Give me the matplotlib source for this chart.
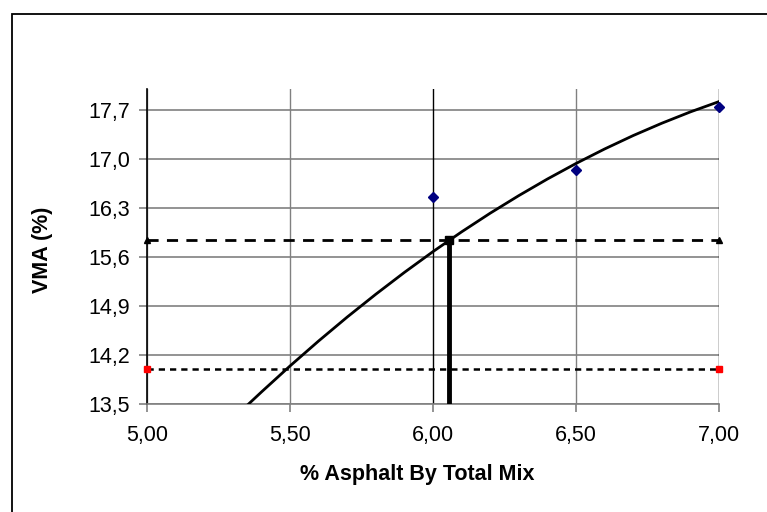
import matplotlib
matplotlib.use('Agg')
import matplotlib.pyplot as plt
from matplotlib.patches import Rectangle

plt.rcParams['font.family'] = ['Liberation Sans', 'DejaVu Sans']

# measured points
asphalt = [6.00, 6.50, 7.00]
vma = [16.46, 16.85, 17.74]

# trend curve
curve_x = [5.35, 5.40, 5.50, 5.60, 5.70, 5.80, 5.90, 6.00, 6.10, 6.20, 6.30,
           6.40, 6.50, 6.60, 6.70, 6.80, 6.90, 7.00]
curve_y = [13.480, 13.671, 14.043, 14.400, 14.742, 15.068, 15.380, 15.677, 15.959,
           16.226, 16.477, 16.714, 16.936, 17.143, 17.335, 17.511, 17.673, 17.820]

# limit lines
vma_target = 15.84
vma_min = 14.0
limit_x = [5.00, 7.00]
opt_asphalt = 6.057

x_ticks = [5.00, 5.50, 6.00, 6.50, 7.00]
y_ticks = [13.5, 14.2, 14.9, 15.6, 16.3, 17.0, 17.7]

fig = plt.figure(figsize=(7.67, 5.12), dpi=100)
ax = fig.add_axes([147 / 767, 1 - 404 / 512, (719 - 147) / 767, (404 - 89) / 512])

ax.set_xlim(5.0, 7.0)
ax.set_ylim(13.5, 18.0)
ax.set_xticks(x_ticks)
ax.set_yticks(y_ticks)
ax.set_xticklabels(['{:.2f}'.format(v).replace('.', ',') for v in x_ticks])
ax.set_yticklabels(['{:.1f}'.format(v).replace('.', ',') for v in y_ticks])
ax.tick_params(axis='both', labelsize=15.5, color='#808080', length=6, width=1.2)
ax.tick_params(axis='x', pad=9)
ax.tick_params(axis='y', pad=6)

for y in y_ticks:
    ax.axhline(y, color='#808080', lw=1.2, zorder=1)
for x in x_ticks:
    c = 'black' if x in (6.00, 7.00) else '#808080'
    ax.axvline(x, color=c, lw=1.0, zorder=1)

for s in ['top', 'right']:
    ax.spines[s].set_visible(False)
ax.spines['left'].set_color('black')
ax.spines['left'].set_linewidth(1.2)
ax.spines['bottom'].set_color('#808080')
ax.spines['bottom'].set_linewidth(1.2)

ax.plot(curve_x, curve_y, color='black', lw=2, zorder=3, clip_on=True,
        solid_joinstyle='round')
ax.plot(limit_x, [vma_target, vma_target], color='black', lw=2, ls=(0, (4, 3)),
        marker='^', ms=5, zorder=4, clip_on=False)
ax.plot(limit_x, [vma_min, vma_min], color='black', lw=1.8, ls=(0, (2.5, 2)), zorder=4,
        clip_on=False)
ax.plot(limit_x, [vma_min, vma_min], ls='none', marker='s', ms=5, color='red', zorder=5,
        clip_on=False)
ax.plot([opt_asphalt, opt_asphalt], [13.5, vma_target], color='black', lw=3.5,
        zorder=4)
ax.plot([opt_asphalt], [vma_target], ls='none', marker='s', ms=6, color='black', zorder=5)
ax.plot(asphalt, vma, ls='none', marker='D', ms=5.5, color='#000080', zorder=6,
        clip_on=False)

ax.set_xlabel('% Asphalt By Total Mix', fontsize=15.5, fontweight='bold')
ax.set_ylabel('VMA (%)', fontsize=15.5, fontweight='bold')
ax.xaxis.set_label_coords(0.472, -0.192)
ax.yaxis.set_label_coords(-0.165, 0.49)

fig.patches.append(Rectangle((12 / 767, -0.1), 1.2, 1 - 14 / 512 + 0.1,
                             transform=fig.transFigure, fill=False, ec='black', lw=1.3))

fig.savefig('out.png', dpi=100)
